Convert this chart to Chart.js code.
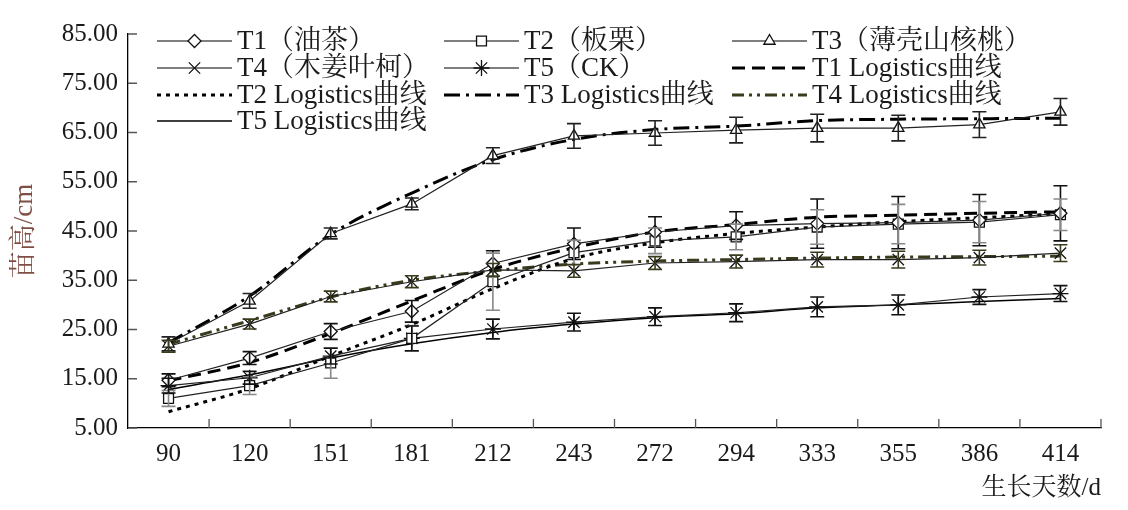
<!DOCTYPE html>
<html>
<head>
<meta charset="utf-8">
<script src="https://cdn.jsdelivr.net/npm/chart.js@4/dist/chart.umd.min.js"></script>
<style>
  html, body { margin: 0; padding: 0; background: #fff; }
  #wrap { width: 1128px; height: 510px; position: relative; }
</style>
</head>
<body>
<div id="wrap"><canvas id="chart"></canvas></div>
<script>
// ─── Data ────────────────────────────────────────────────────────────────────
const days = ['90', '120', '151', '181', '212', '243', '272', '294', '333', '355', '386', '414'];

const t1 = [14.7, 19.2, 24.6, 28.7, 38.4, 42.4, 44.8, 46.1, 46.5, 46.7, 47.2, 48.6];
const t2 = [11.0, 13.6, 18.2, 23.2, 34.7, 40.6, 43.0, 43.8, 45.8, 46.4, 46.8, 48.3];
const t3 = [22.1, 30.8, 44.5, 50.5, 60.3, 64.3, 64.9, 65.5, 65.9, 65.9, 66.6, 69.2];
const t4 = [21.6, 26.1, 31.7, 34.7, 37.1, 36.9, 38.5, 38.8, 39.2, 39.2, 39.6, 40.5];
const t5 = [13.6, 15.2, 19.6, 23.2, 25.1, 26.5, 27.6, 28.4, 29.6, 30.0, 31.6, 32.3];

const t1Err = [1.3, 1.3, 1.6, 2.2, 2.6, 3.2, 3.1, 2.8, 5.0, 5.3, 5.2, 5.6];
const t2Err = [1.6, 1.8, 3.1, 2.6, 5.8, 2.5, 2.6, 2.6, 3.5, 4.0, 4.2, 3.2];
const t3Err = [1.4, 1.5, 1.1, 1.2, 1.6, 2.5, 2.5, 2.6, 2.8, 2.6, 2.6, 2.7];
const t4Err = [1.2, 1.0, 1.1, 1.2, 1.3, 1.3, 1.3, 1.3, 1.5, 1.7, 1.5, 1.7];
const t5Err = [1.5, 1.3, 1.6, 2.5, 2.0, 1.8, 1.8, 1.8, 2.0, 2.0, 1.5, 1.6];

const t1Fit = [14.6, 18.3, 24.2, 30.8, 37.2, 41.6, 44.8, 46.3, 47.8, 48.2, 48.6, 48.9];
const t2Fit = [8.3, 13.0, 19.6, 26.0, 33.3, 39.4, 42.6, 44.5, 45.8, 46.9, 47.7, 48.5];
const t3Fit = [22.3, 31.8, 44.3, 52.7, 59.5, 63.6, 65.6, 66.3, 67.4, 67.7, 67.8, 67.9];
const t4Fit = [22.0, 26.8, 31.6, 35.0, 36.9, 38.3, 38.9, 39.2, 39.5, 39.7, 39.8, 39.9];
const t5Fit = [12.8, 15.8, 19.2, 22.1, 24.4, 26.1, 27.4, 28.2, 29.4, 30.0, 30.7, 31.3];

const yTicks = [5, 15, 25, 35, 45, 55, 65, 75, 85];

const FONT = "'Liberation Serif', 'Noto Serif CJK SC', 'Noto Sans CJK SC', serif";
const OLIVE = '#3a3a1c';

// ─── Series builders ─────────────────────────────────────────────────────────
function measured(label, data, errors, style, errColor) {
    return {
        label, data, errors, errColor,
        borderColor: '#222',
        borderWidth: 1.2,
        pointStyle: style,
        pointRadius: style === 'rect' ? 7 : style === 'crossRot' || style === 'star' ? 8 : 6.5,
        pointBorderWidth: 1.3,
        pointBorderColor: '#111',
        pointBackgroundColor: '#fff',
        tension: 0,
        fill: false,
    };
}

function fitted(label, data, dash, color, width) {
    return {
        label, data,
        borderColor: color,
        borderWidth: width,
        borderDash: dash,
        pointRadius: 0,
        cubicInterpolationMode: 'monotone',
        fill: false,
    };
}

// ─── Plugins ─────────────────────────────────────────────────────────────────
const errorBars = {
    id: 'errorBars',
    afterDatasetsDraw(chart) {
        const { ctx, scales: { x, y } } = chart;
        ctx.save();
        chart.data.datasets.forEach(ds => {
            if (!ds.errors) return;
            ctx.strokeStyle = ds.errColor;
            ctx.lineWidth = 1.6;
            ds.data.forEach((v, i) => {
                const px = x.getPixelForValue(i);
                const top = y.getPixelForValue(v + ds.errors[i]);
                const bot = y.getPixelForValue(v - ds.errors[i]);
                ctx.beginPath();
                ctx.moveTo(px, top); ctx.lineTo(px, bot);
                ctx.moveTo(px - 7, top); ctx.lineTo(px + 7, top);
                ctx.moveTo(px - 7, bot); ctx.lineTo(px + 7, bot);
                ctx.stroke();
            });
        });
        ctx.restore();
    }
};

const innerTicks = {
    id: 'innerTicks',
    afterDraw(chart) {
        const { ctx, chartArea: a, scales: { x, y } } = chart;
        ctx.save();
        ctx.strokeStyle = '#555';
        ctx.lineWidth = 1.3;
        ctx.beginPath();
        y.ticks.forEach((t, i) => {
            const py = y.getPixelForTick(i);
            ctx.moveTo(a.left, py); ctx.lineTo(a.left + 9, py);
        });
        const step = x.getPixelForTick(1) - x.getPixelForTick(0);
        for (let i = 1; i <= x.ticks.length; i++) {
            const px = x.getPixelForTick(0) - step / 2 + i * step;
            ctx.moveTo(px, a.bottom); ctx.lineTo(px, a.bottom - 9);
        }
        ctx.stroke();
        ctx.restore();
    }
};

// legend laid out as a 3-column grid over the plot
const gridLegend = {
    id: 'gridLegend',
    afterDraw(chart) {
        const { ctx } = chart;
        const colX = [157, 444, 732];
        const rowY = [41, 68, 95, 121];
        const sample = 75;
        ctx.save();
        ctx.font = `27px ${FONT}`;
        ctx.textBaseline = 'middle';
        ctx.fillStyle = '#1a1a1a';
        chart.data.datasets.forEach((ds, i) => {
            const x0 = colX[i % 3];
            const yy = rowY[Math.floor(i / 3)];
            ctx.save();
            ctx.strokeStyle = ds.errors ? '#555' : ds.borderColor;
            ctx.lineWidth = ds.errors ? 1.3 : ds.borderWidth;
            ctx.setLineDash(ds.borderDash || []);
            ctx.beginPath();
            ctx.moveTo(x0, yy); ctx.lineTo(x0 + sample, yy);
            ctx.stroke();
            ctx.restore();
            if (ds.errors) {
                ctx.save();
                ctx.strokeStyle = '#111';
                ctx.fillStyle = '#fff';
                ctx.lineWidth = 1.3;
                Chart.helpers.drawPoint(ctx, { pointStyle: ds.pointStyle, radius: ds.pointRadius, rotation: 0, borderWidth: 1.3 }, x0 + sample / 2, yy);
                ctx.restore();
            }
            ctx.fillText(ds.label, x0 + sample + 5, yy + 1);
        });
        ctx.restore();
    }
};

// ─── Chart ───────────────────────────────────────────────────────────────────
const ctx = document.getElementById('chart').getContext('2d');
new Chart(ctx, {
    type: 'line',
    data: {
        labels: days,
        datasets: [
            measured('T1（油茶）', t1, t1Err, 'rectRot', '#111'),
            measured('T2（板栗）', t2, t2Err, 'rect', '#888'),
            measured('T3（薄壳山核桃）', t3, t3Err, 'triangle', '#222'),
            measured('T4（木姜叶柯）', t4, t4Err, 'crossRot', OLIVE),
            measured('T5（CK）', t5, t5Err, 'star', '#111'),
            fitted('T1 Logistics曲线', t1Fit, [13, 7], '#000', 3),
            fitted('T2 Logistics曲线', t2Fit, [4, 5], '#000', 3),
            fitted('T3 Logistics曲线', t3Fit, [16, 6, 3, 6], '#000', 3),
            fitted('T4 Logistics曲线', t4Fit, [12, 5, 3, 5, 3, 5], OLIVE, 3),
            fitted('T5 Logistics曲线', t5Fit, [], '#000', 1.5),
        ]
    },
    options: {
        responsive: true,
        maintainAspectRatio: false,
        animation: false,
        layout: { padding: { top: 34, right: 27, left: 0, bottom: 0 } },
        plugins: {
            legend: { display: false },
            tooltip: { enabled: false },
        },
        scales: {
            x: {
                type: 'category',
                offset: true,
                grid: { display: false, drawTicks: false, tickLength: 0, offset: true },
                border: { display: true, color: '#000', width: 1.3 },
                ticks: { color: '#1a1a1a', padding: 11, font: { family: FONT, size: 25 }, maxRotation: 0 },
                title: {
                    display: true, text: '生长天数/d', align: 'end', color: '#1a1a1a',
                    font: { family: FONT, size: 25 }, padding: { top: 0, bottom: 7 },
                },
                afterFit: scale => { scale.height = 82; },
            },
            y: {
                min: 5, max: 85,
                afterBuildTicks: scale => { scale.ticks = yTicks.map(v => ({ value: v })); },
                grid: { display: false, drawTicks: false, tickLength: 0 },
                border: { display: true, color: '#000', width: 1.3 },
                ticks: {
                    color: '#1a1a1a', padding: 10,
                    font: { family: FONT, size: 25 },
                    callback: v => Number(v).toFixed(2),
                },
                title: {
                    display: true, text: '苗高/cm', color: '#7f4f45',
                    font: { family: FONT, size: 27 }, padding: { top: 9, bottom: 0 },
                },
                afterFit: scale => { scale.width = 128; },
            },
        },
    },
    plugins: [errorBars, innerTicks, gridLegend],
});
</script>
</body>
</html>
